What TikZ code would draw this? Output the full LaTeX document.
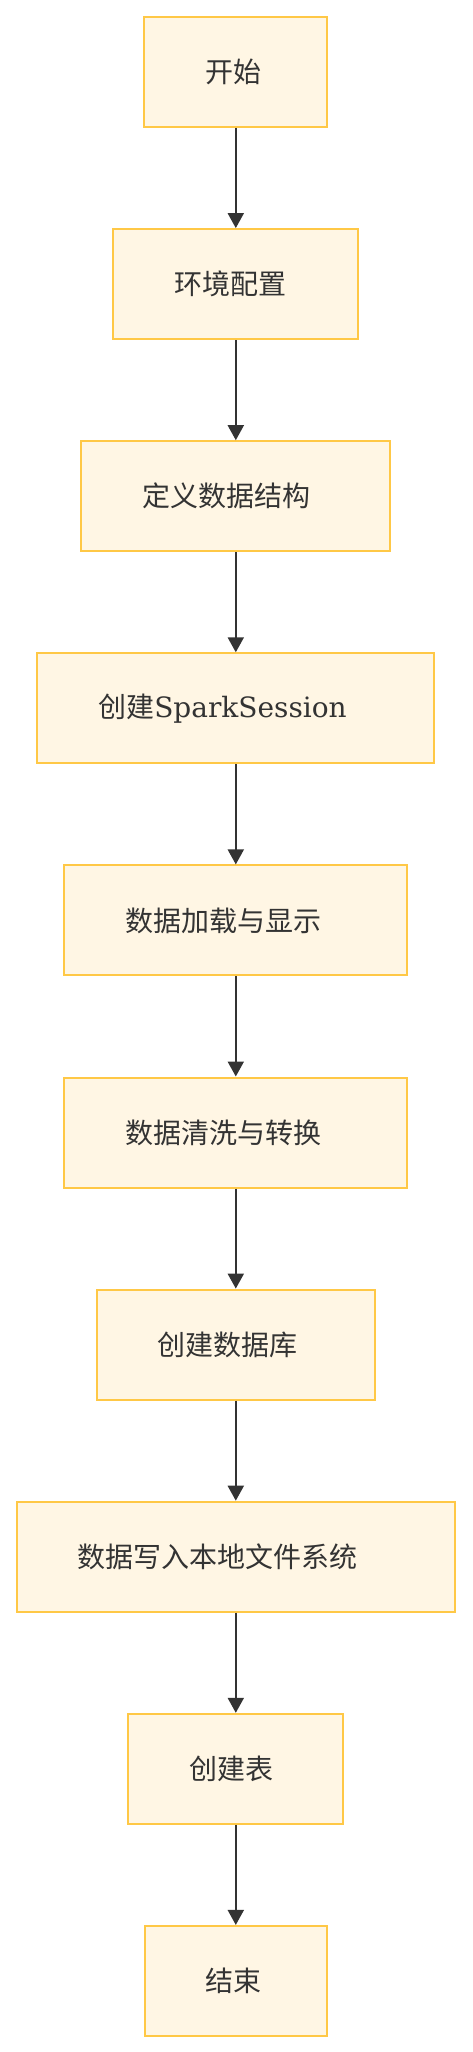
\documentclass[tikz,border=0pt]{standalone}
\usepackage{fontspec}
\setmainfont{DejaVu Serif}
\newfontfamily\cjk{Noto Sans CJK SC}
\usetikzlibrary{arrows.meta}
\definecolor{boxfill}{RGB}{255,246,228}
\definecolor{boxdraw}{RGB}{255,200,70}
\definecolor{arrowc}{RGB}{51,51,51}
\definecolor{textc}{RGB}{51,51,51}
\tikzset{
  stepbox/.style={draw=boxdraw, fill=boxfill, line width=2pt, minimum height=110pt,
    inner xsep=61pt, inner ysep=0pt, align=left, font=\fontsize{28}{34}\selectfont,
    text=textc, anchor=north},
  flow/.style={draw=arrowc, line width=2pt, -{Triangle[length=15pt,width=16pt]}}
}
\begin{document}
\begin{tikzpicture}
\useasboundingbox (0,0) rectangle (472pt,-2052pt);
\node[stepbox, text width=61pt]  (n1)  at (235.8pt,-16pt)     {\cjk 开始};
\node[stepbox, text width=123pt] (n2)  at (235.8pt,-228.1pt)  {\cjk 环境配置};
\node[stepbox, text width=187pt] (n3)  at (235.8pt,-440.2pt)  {\cjk 定义数据结构};
\node[stepbox, text width=275pt] (n4)  at (235.8pt,-652.3pt)  {{\cjk 创建}SparkSession};
\node[stepbox, text width=221pt] (n5)  at (235.8pt,-864.4pt)  {\cjk 数据加载与显示};
\node[stepbox, text width=221pt] (n6)  at (235.8pt,-1076.5pt) {\cjk 数据清洗与转换};
\node[stepbox, text width=156pt] (n7)  at (235.8pt,-1288.6pt) {\cjk 创建数据库};
\node[stepbox, text width=316pt] (n8)  at (235.8pt,-1500.7pt) {\cjk 数据写入本地文件系统};
\node[stepbox, text width=93pt]  (n9)  at (235.8pt,-1712.8pt) {\cjk 创建表};
\node[stepbox, text width=60pt]  (n10) at (235.8pt,-1924.9pt) {\cjk 结束};
\foreach \a/\b in {n1/n2,n2/n3,n3/n4,n4/n5,n5/n6,n6/n7,n7/n8,n8/n9,n9/n10}
  \draw[flow] (\a.south) -- (\b.north);
\end{tikzpicture}
\end{document}
